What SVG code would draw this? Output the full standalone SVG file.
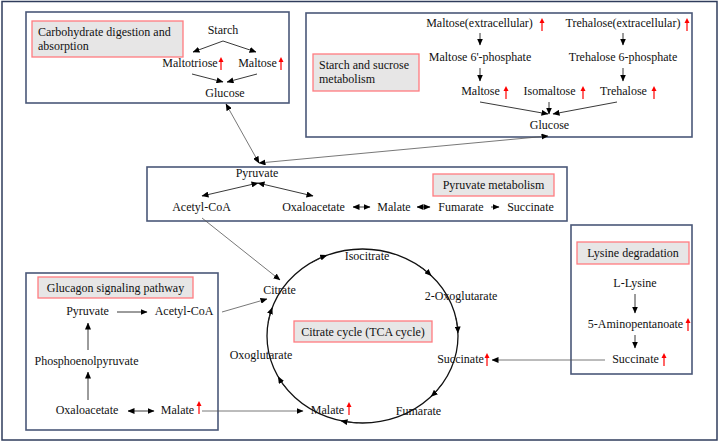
<svg xmlns="http://www.w3.org/2000/svg" width="719" height="442" viewBox="0 0 719 442">
<style>
text{font-family:"Liberation Serif","Times New Roman",serif;font-size:12px;fill:#111;text-anchor:middle}
.box{fill:#fff;stroke:#4a5878;stroke-width:1.6}
.lbl{fill:#e7e6e6;stroke:#ff7c80;stroke-width:1.3}
.lt{text-anchor:start}
.c{fill:none;stroke:#222;stroke-width:0.9}
.g{fill:none;stroke:#555;stroke-width:0.8}
.up line{stroke:#f00;stroke-width:1.2}
.up path{fill:#f00}
</style>
<defs>
<marker id="a" markerWidth="7" markerHeight="6" refX="6.5" refY="3" orient="auto" markerUnits="userSpaceOnUse"><path d="M0,0L7,3L0,6z" fill="#000"/></marker>
<marker id="s" markerWidth="7" markerHeight="6" refX="0.5" refY="3" orient="auto" markerUnits="userSpaceOnUse"><path d="M7,0L0,3L7,6z" fill="#000"/></marker>
<g id="up" class="up"><line x1="0" y1="3" x2="0" y2="13"/><path d="M-2.5,5L0,0L2.5,5z"/></g>
</defs>
<rect x="0" y="0" width="719" height="442" fill="#fff"/>
<rect x="2" y="1.5" width="715" height="438.5" fill="none" stroke="#2f3c5c" stroke-width="1.5"/>

<g id="carb">
<rect class="box" x="26" y="12" width="263" height="91"/>
<rect class="lbl" x="32" y="21" width="151" height="36"/>
<text class="lt" x="38" y="36">Carbohydrate digestion and</text>
<text class="lt" x="38" y="50">absorption</text>
<text x="223" y="34">Starch</text>
<text x="190" y="67">Maltotriose</text>
<use href="#up" x="221" y="57"/>
<text x="257.5" y="67">Maltose</text>
<use href="#up" x="281" y="57"/>
<text x="225" y="97">Glucose</text>
<path class="c" d="M223,41L193,52" marker-end="url(#a)"/>
<path class="c" d="M223,41L256,52" marker-end="url(#a)"/>
<path class="c" d="M192,74L223,82" marker-end="url(#a)"/>
<path class="c" d="M257,74L227,82" marker-end="url(#a)"/>
</g>

<g id="starch">
<rect class="box" x="306" y="13" width="386" height="124"/>
<rect class="lbl" x="313" y="54" width="106" height="37"/>
<text class="lt" x="319" y="69">Starch and sucrose</text>
<text class="lt" x="319" y="83">metabolism</text>
<text x="479.5" y="27">Maltose(extracellular)</text>
<use href="#up" x="542" y="18"/>
<text x="623" y="27">Trehalose(extracellular)</text>
<use href="#up" x="687" y="18"/>
<text x="480" y="61">Maltose 6'-phosphate</text>
<text x="623" y="61">Trehalose 6-phosphate</text>
<text x="480.5" y="95">Maltose</text>
<use href="#up" x="506" y="86"/>
<text x="549.5" y="95">Isomaltose</text>
<use href="#up" x="583" y="86"/>
<text x="623.5" y="95">Trehalose</text>
<use href="#up" x="654" y="86"/>
<text x="549.5" y="129">Glucose</text>
<path class="c" d="M480,33V45" marker-end="url(#a)"/>
<path class="c" d="M623,33V45" marker-end="url(#a)"/>
<path class="c" d="M480,68V81" marker-end="url(#a)"/>
<path class="c" d="M623,68V81" marker-end="url(#a)"/>
<path class="c" d="M480,102L548,114" marker-end="url(#a)"/>
<path class="c" d="M549,102V114" marker-end="url(#a)"/>
<path class="c" d="M617,102L553,114" marker-end="url(#a)"/>
</g>

<g id="pyruvate">
<rect class="box" x="147" y="167" width="420" height="54"/>
<rect class="lbl" x="433" y="174" width="121" height="22"/>
<text x="493.5" y="189">Pyruvate metabolism</text>
<text x="257" y="177">Pyruvate</text>
<text x="201.5" y="211">Acetyl-CoA</text>
<text x="313.5" y="211">Oxaloacetate</text>
<text x="394" y="211">Malate</text>
<text x="461" y="211">Fumarate</text>
<text x="530.5" y="211">Succinate</text>
<path class="c" d="M258,183L202,196" marker-start="url(#s)" marker-end="url(#a)"/>
<path class="c" d="M258,183L313,196" marker-start="url(#s)" marker-end="url(#a)"/>
<path class="c" d="M353,207H370" marker-start="url(#s)" marker-end="url(#a)"/>
<path class="c" d="M417,207H430" marker-start="url(#s)" marker-end="url(#a)"/>
<path class="c" d="M491,207H499" marker-end="url(#a)"/>
</g>

<g id="lysine">
<rect class="box" x="571" y="225" width="121" height="149"/>
<rect class="lbl" x="577" y="242" width="112" height="22"/>
<text x="633" y="257">Lysine degradation</text>
<text x="635" y="287">L-Lysine</text>
<text x="635.5" y="328">5-Aminopentanoate</text>
<use href="#up" x="688" y="318"/>
<text x="635.5" y="363">Succinate</text>
<use href="#up" x="664" y="353"/>
<path class="c" d="M635,294V313" marker-end="url(#a)"/>
<path class="c" d="M635,335V348" marker-end="url(#a)"/>
</g>

<g id="glucagon">
<rect class="box" x="26" y="273" width="192" height="157"/>
<rect class="lbl" x="38" y="277" width="155" height="21"/>
<text x="115.5" y="292">Glucagon signaling pathway</text>
<text x="87.5" y="315">Pyruvate</text>
<text x="184" y="315">Acetyl-CoA</text>
<text x="86.5" y="365">Phosphoenolpyruvate</text>
<text x="87" y="414">Oxaloacetate</text>
<text x="177.5" y="414">Malate</text>
<use href="#up" x="199" y="401"/>
<path class="c" d="M117,312H147" marker-end="url(#a)"/>
<path class="c" d="M88,350V323" marker-end="url(#a)"/>
<path class="c" d="M88,400V372" marker-end="url(#a)"/>
<path class="c" d="M128,411H154" marker-start="url(#s)" marker-end="url(#a)"/>
</g>

<g id="tca">
<ellipse cx="362.5" cy="336" rx="95.5" ry="87" fill="none" stroke="#111" stroke-width="1.3"/>
<path class="c" d="M311.9,262.2A95.5,87 0 0 1 326.7,255.3" marker-end="url(#a)"/>
<path class="c" d="M418.6,265.6A95.5,87 0 0 1 431.2,275.6" marker-end="url(#a)"/>
<path class="c" d="M455.9,317.9A95.5,87 0 0 1 457.9,333" marker-end="url(#a)"/>
<path class="c" d="M441.7,384.7A95.5,87 0 0 1 431.2,396.4" marker-end="url(#a)"/>
<path class="c" d="M357.5,422.9A95.5,87 0 0 1 341,420.8" marker-end="url(#a)"/>
<path class="c" d="M287.2,389.6A95.5,87 0 0 1 278.2,376.8" marker-end="url(#a)"/>
<path class="c" d="M268.2,322.4A95.5,87 0 0 1 272.2,307.7" marker-end="url(#a)"/>
<rect class="lbl" x="294" y="321" width="138" height="21"/>
<text x="363" y="336">Citrate cycle (TCA cycle)</text>
<text x="367" y="260">Isocitrate</text>
<text x="461" y="300">2-Oxoglutarate</text>
<text x="460.5" y="363">Succinate</text>
<use href="#up" x="487" y="353"/>
<text x="418.5" y="415">Fumarate</text>
<text x="327.5" y="414">Malate</text>
<use href="#up" x="349" y="402"/>
<text x="261" y="359">Oxoglutarate</text>
<text x="279.5" y="294">Citrate</text>
</g>

<g id="connectors">
<path class="g" d="M226,104L259,163" marker-start="url(#s)" marker-end="url(#a)"/>
<path class="g" d="M548,136L259,163" marker-start="url(#s)" marker-end="url(#a)"/>
<path class="g" d="M202,218L280,280" marker-end="url(#a)"/>
<path class="g" d="M222,312L267,299" marker-end="url(#a)"/>
<path class="g" d="M202,411H303" marker-end="url(#a)"/>
<path class="g" d="M605,360H492" marker-end="url(#a)"/>
</g>
</svg>
